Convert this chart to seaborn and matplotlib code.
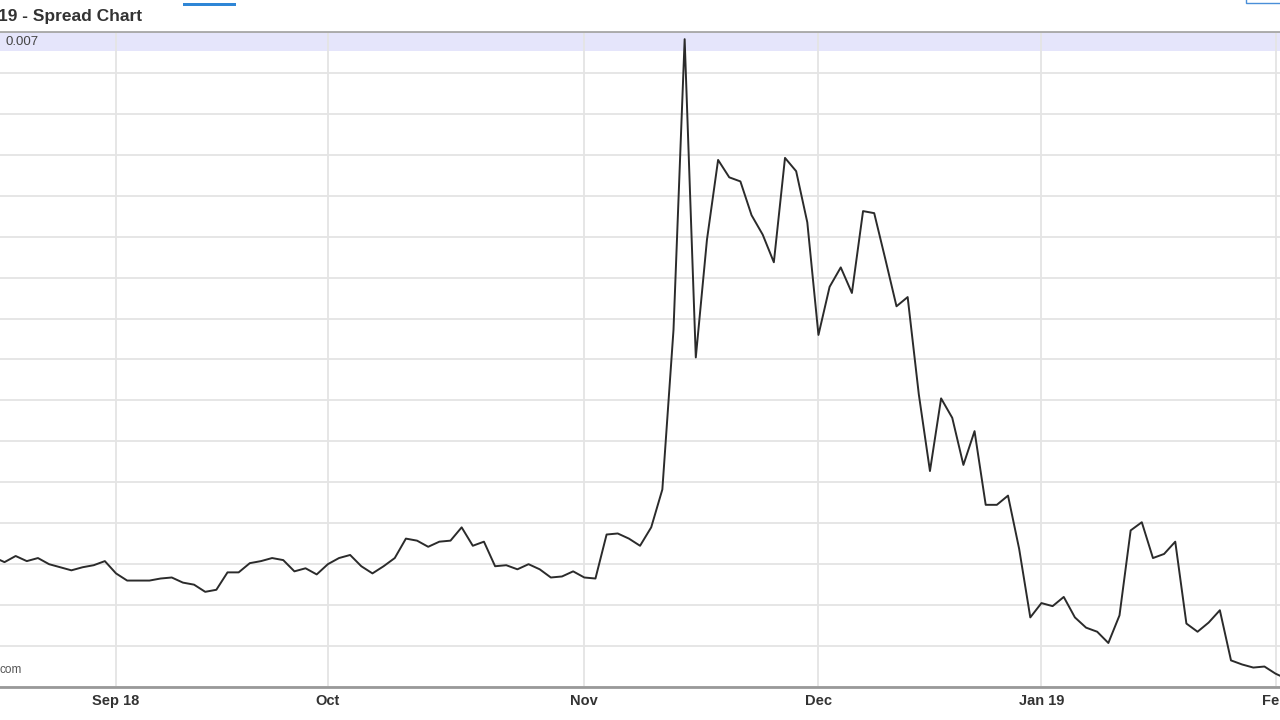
import numpy as np
import pandas as pd
import matplotlib.pyplot as plt
from matplotlib.patches import Rectangle
import seaborn as sns

# Daily spread values (trading days, Sep 2018 - Feb 2019)
spread = [
    0.00187, 0.00182, 0.00188, 0.00183, 0.00186, 0.00180, 0.00177, 0.00174, 0.00177, 0.00179,
    0.00183, 0.00171, 0.00164, 0.00164, 0.00164, 0.00166, 0.00167, 0.00162, 0.00160, 0.00153,
    0.00155, 0.00172, 0.00172, 0.00181, 0.00183, 0.00186, 0.00184, 0.00173, 0.00176, 0.00170,
    0.00180, 0.00186, 0.00189, 0.00178, 0.00171, 0.00178, 0.00186, 0.00205, 0.00203, 0.00197,
    0.00202, 0.00203, 0.00216, 0.00198, 0.00202, 0.00178, 0.00179, 0.00175, 0.00180, 0.00175,
    0.00167, 0.00168, 0.00173, 0.00167, 0.00166, 0.00209, 0.00210, 0.00205, 0.00198, 0.00216,
    0.00253, 0.00409, 0.00693, 0.00382, 0.00497, 0.00575, 0.00558, 0.00554, 0.00521, 0.00502,
    0.00475, 0.00577, 0.00564, 0.00514, 0.00404, 0.00451, 0.00470, 0.00445, 0.00525, 0.00523,
    0.00478, 0.00432, 0.00441, 0.00346, 0.00271, 0.00342, 0.00323, 0.00277, 0.00310, 0.00238,
    0.00238, 0.00247, 0.00195, 0.00128, 0.00142, 0.00139, 0.00148, 0.00128, 0.00118, 0.00114,
    0.00103, 0.00130, 0.00213, 0.00221, 0.00186, 0.00190, 0.00202, 0.00122, 0.00114, 0.00123,
    0.00135, 0.00086, 0.00082, 0.00079, 0.00080, 0.00073, 0.00068,
]
day = list(range(len(spread)))

# month-start positions (trading-day index) and labels
tick_pos = [11, 30, 53, 74, 94, 115]
tick_labels = ["Sep 18", "Oct", "Nov", "Dec", "Jan 19", "Feb"]

y_lo, y_hi, y_step = 0.0006, 0.007, 0.0004
top_label = "0.007"

df = pd.DataFrame({"day": day, "spread": spread})

sns.set_style("white")
plt.rcParams["font.family"] = ["Liberation Sans", "DejaVu Sans"]

fig = plt.figure(figsize=(12.8, 7.2), dpi=100)
ax = fig.add_axes([0, 33 / 720, 1, 655 / 720])

# highlighted band at the top
ax.add_patch(Rectangle((0, 1 - 19 / 655), 1, 19 / 655, transform=ax.transAxes,
                       facecolor="#e5e5fb", edgecolor="none", zorder=0))

# grid
for yv in np.arange(y_lo, y_hi + y_step / 2, y_step):
    ax.axhline(yv, color="#e4e4e4", lw=1.3, zorder=0.5)
for xv in tick_pos:
    ax.axvline(xv, color="#e4e4e4", lw=1.3, zorder=0.5)

ax.text(5 / 1280, 1 - 10 / 655, top_label, transform=ax.transAxes,
        ha="left", va="center", fontsize=9.5, color="#444444", zorder=3)

sns.lineplot(data=df, x="day", y="spread", color="#2b2b2b", lw=1.4, ax=ax, zorder=2)

ax.set_xlim(6.65 / 11.15, (1280 + 6.65) / 11.15)
ax.set_ylim(y_lo, y_hi)
ax.set_xticks(tick_pos)
ax.set_xticklabels(tick_labels, fontsize=10.5, fontweight="bold", color="#333333")
ax.set_yticks([])
ax.set_xlabel("")
ax.set_ylabel("")
ax.tick_params(axis="x", length=4, width=1.2, color="#888888", pad=1, direction="out")

for side in ["left", "right"]:
    ax.spines[side].set_visible(False)
ax.spines["top"].set_color("#a0a0a0")
ax.spines["top"].set_linewidth(1.2)
ax.spines["bottom"].set_color("#999999")
ax.spines["bottom"].set_linewidth(2)

# watermark fragment
ax.text(-1 / 1280, 17 / 655, "com", transform=ax.transAxes, ha="left", va="center",
        fontsize=8.5, color="#555555")

# title fragment and header decorations
fig.text(-2 / 1280, 1 - 17 / 720, "19 - Spread Chart", ha="left", va="center",
         fontsize=12.5, fontweight="bold", color="#333333")
fig.add_artist(Rectangle((183 / 1280, 1 - 6 / 720), 53 / 1280, 3 / 720,
                         transform=fig.transFigure, facecolor="#2f86d6", edgecolor="none"))
fig.add_artist(Rectangle((1246 / 1280, 1 - 3 / 720), 40 / 1280, 6 / 720,
                         transform=fig.transFigure, facecolor="white", edgecolor="#4a8fd8", lw=1))

fig.savefig("out.png", dpi=100)
